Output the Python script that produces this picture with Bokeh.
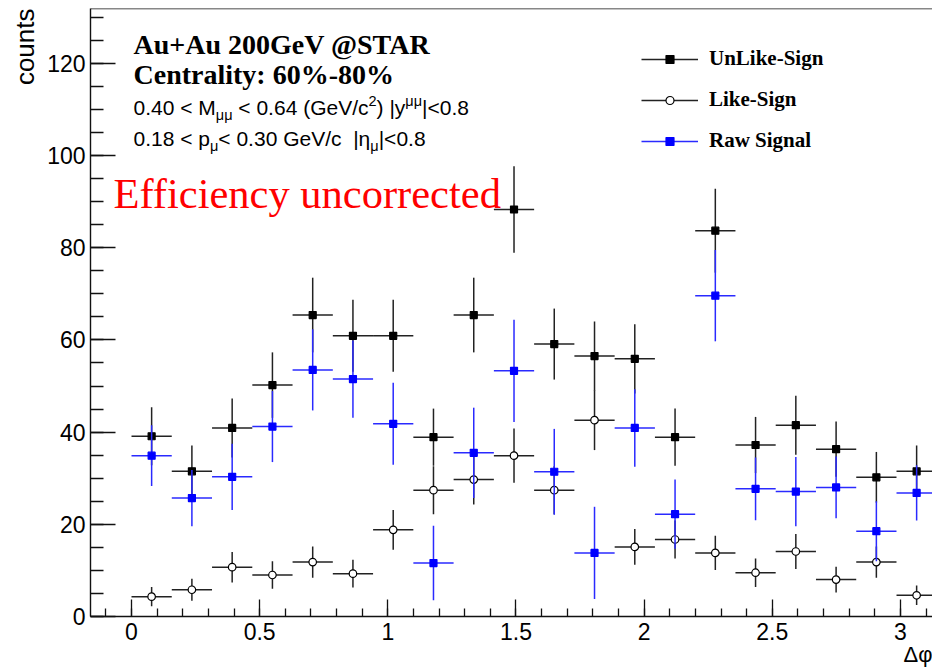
import math
from bokeh.plotting import figure
from bokeh.models import (ColumnDataSource, Label, Legend, LegendItem, Span, Title,
                          SingleIntervalTicker, CustomJSTickFormatter, Range1d)
from bokeh.embed import file_html
from bokeh.resources import INLINE

# ---------------- data ----------------
dphi = [0.0785, 0.2356, 0.3927, 0.5498, 0.7069, 0.8639, 1.0210, 1.1781, 1.3352, 1.4923,
        1.6493, 1.8064, 1.9635, 2.1206, 2.2777, 2.4347, 2.5918, 2.7489, 2.9060, 3.0631]
half_bin = 0.0785

unlike = [39.1, 31.5, 40.9, 50.2, 65.4, 60.9, 60.9, 38.9, 65.4, 88.3,
          59.1, 56.5, 55.9, 38.9, 83.7, 37.2, 41.5, 36.3, 30.2, 31.5]
unlike_err = [6.3, 5.6, 6.4, 7.1, 8.1, 7.8, 7.8, 6.2, 8.1, 9.4,
              7.7, 7.5, 7.5, 6.2, 9.1, 6.1, 6.4, 6.0, 5.5, 5.6]

like = [4.3, 5.8, 10.7, 9.0, 11.8, 9.3, 18.8, 27.4, 29.7, 34.9,
        27.4, 42.6, 15.1, 16.7, 13.8, 9.5, 14.1, 8.0, 11.8, 4.6]
like_err = [2.1, 2.4, 3.3, 3.0, 3.4, 3.0, 4.3, 5.2, 5.4, 5.9,
            5.2, 6.5, 3.9, 4.1, 3.7, 3.1, 3.8, 2.8, 3.4, 2.1]

raw = [34.9, 25.7, 30.3, 41.2, 53.5, 51.5, 41.8, 11.6, 35.5, 53.3,
       31.4, 13.8, 40.9, 22.2, 69.6, 27.7, 27.1, 28.0, 18.5, 26.8]
raw_err = [6.6, 6.1, 7.2, 7.7, 8.8, 8.4, 8.9, 8.1, 9.8, 11.1,
           9.3, 10.0, 8.4, 7.5, 9.9, 6.8, 7.5, 6.7, 6.5, 6.0]

series_names = ["UnLike-Sign", "Like-Sign", "Raw Signal"]
x_title = "\u0394\u03c6"
y_title = "counts"
x_ticks_interval = 0.5
y_ticks_interval = 20

# ---------------- figure ----------------
FRAME_LEFT, FRAME_TOP, FRAME_BOTTOM = 90, 8, 616
W, H = 932, 669

p = figure(width=W, height=H, output_backend="svg", toolbar_location=None,
           x_range=Range1d(-0.16, 3.125), y_range=Range1d(0, 131.9),
           min_border_left=FRAME_LEFT, min_border_right=0,
           min_border_top=FRAME_TOP, min_border_bottom=H - FRAME_BOTTOM)
p.background_fill_color = "white"
p.border_fill_color = "white"
p.outline_line_color = None
p.xgrid.visible = False
p.ygrid.visible = False

AX_COL = "#111111"
p.xaxis.ticker = SingleIntervalTicker(interval=x_ticks_interval, num_minor_ticks=5)
p.xaxis.formatter = CustomJSTickFormatter(code="return (Math.round(tick*10)/10).toString();")
p.yaxis.ticker = SingleIntervalTicker(interval=y_ticks_interval, num_minor_ticks=4)
for ax in (p.xaxis[0], p.yaxis[0]):
    ax.axis_line_color = AX_COL
    ax.axis_line_width = 1.4
    ax.major_tick_line_color = AX_COL
    ax.minor_tick_line_color = AX_COL
    ax.major_tick_line_width = 1.3
    ax.minor_tick_line_width = 1.3
    ax.major_tick_out = 0
    ax.minor_tick_out = 0
    ax.major_label_text_font = "Liberation Sans"
    ax.major_label_text_color = "black"
p.xaxis.major_tick_in = 17
p.xaxis.minor_tick_in = 8
p.xaxis.major_label_text_font_size = "23px"
p.xaxis.major_label_standoff = 6
p.yaxis.major_tick_in = 25
p.yaxis.minor_tick_in = 13
p.yaxis.major_label_text_font_size = "23px"
p.yaxis.major_label_standoff = 5

p.add_layout(Span(location=131.9, dimension="width", line_color=AX_COL, line_width=1.4))

# axis titles placed at the axis ends (ROOT style)
p.add_layout(Title(text=y_title, align="right", text_font="Liberation Sans",
                   text_font_style="normal", text_font_size="26px",
                   text_color="black", standoff=10), "left")
p.add_layout(Title(text=x_title, align="right", text_font="Liberation Sans",
                   text_font_style="normal", text_font_size="22px",
                   text_color="black", standoff=-6), "below")


def draw_series(yv, ev, color, bar_color, marker, fill):
    src = ColumnDataSource(dict(
        x=dphi, y=yv,
        xl=[x - half_bin for x in dphi], xr=[x + half_bin for x in dphi],
        yl=[y - e for y, e in zip(yv, ev)], yh=[y + e for y, e in zip(yv, ev)]))
    hr = p.segment(x0="xl", y0="y", x1="xr", y1="y", source=src,
                   line_color=bar_color, line_width=1.5)
    p.segment(x0="x", y0="yl", x1="x", y1="yh", source=src,
              line_color=bar_color, line_width=1.5)
    size = 7.5 if marker == "circle" else 7
    mr = p.scatter(x="x", y="y", source=src, marker=marker, size=size,
                   line_color=color, fill_color=fill, line_width=1.2)
    return hr, mr


ul_h, ul_m = draw_series(unlike, unlike_err, "black", "#222222", "square", "black")
ls_h, ls_m = draw_series(like, like_err, "black", "#222222", "circle", "white")
rw_h, rw_m = draw_series(raw, raw_err, "#0000ff", "#2a2aff", "square", "#0000ff")

legend = Legend(items=[
    LegendItem(label=series_names[0], renderers=[ul_h, ul_m]),
    LegendItem(label=series_names[1], renderers=[ls_h, ls_m]),
    LegendItem(label=series_names[2], renderers=[rw_h, rw_m]),
], location=(641 - FRAME_LEFT, FRAME_BOTTOM - 153), orientation="vertical",
    glyph_width=57, glyph_height=20, label_height=20, spacing=16,
    padding=0, margin=0, border_line_color=None, background_fill_alpha=0,
    label_text_font="Liberation Serif", label_text_font_style="bold",
    label_text_font_size="21px", label_standoff=11, label_text_color="black")
p.add_layout(legend)

# ---------------- texts ----------------
BASE_FIX = 0.3  # compensation so that the given y is the glyph baseline


def add_label(text, px, py, size, font="Liberation Sans", style="normal", color="black"):
    py_eff = py - BASE_FIX * size
    p.add_layout(Label(x=px - FRAME_LEFT, y=FRAME_BOTTOM - py_eff,
                       x_units="screen", y_units="screen",
                       text=text, text_font=font, text_font_style=style,
                       text_font_size=f"{size}px", text_color=color,
                       text_align="left", text_baseline="alphabetic"))


add_label("Au+Au 200GeV @STAR", 133, 52, 28, font="Liberation Serif", style="bold")
add_label("Centrality: 60%-80%", 133, 82, 28, font="Liberation Serif", style="bold")
add_label("Efficiency uncorrected", 113, 206, 42.5, font="Liberation Serif", color="#ff0000")

# Arial / Liberation Sans advance widths (per em)
AW = {"0": .556, "1": .556, "2": .556, "3": .556, "4": .556, "5": .556, "6": .556,
      "7": .556, "8": .556, "9": .556, ".": .278, " ": .278, "\u00a0": .278, "<": .584,
      "M": .833, "(": .333, ")": .333, "G": .778, "e": .556, "V": .667, "/": .278,
      "c": .5, "|": .26, "y": .5, "p": .556, "\u03bc": .576, "\u03b7": .556}
NB = "\u00a0"


def text_run(pieces, px0, py0):
    x = px0
    for txt, size, dy in pieces:
        txt = txt.replace(" ", NB)
        add_label(txt, x, py0 + dy, size)
        x += sum(AW.get(ch, .556) for ch in txt) * size


F, S = 21, 14.5
text_run([("0.40 < M", F, 0), ("\u03bc\u03bc", S, 6), (" < 0.64 (GeV/c", F, 0),
          ("2", S, -8), (") |y", F, 0), ("\u03bc\u03bc", S, -8), ("|<0.8", F, 0)], 133, 113)
text_run([("0.18 < p", F, 0), ("\u03bc", S, 6), ("< 0.30 GeV/c  |\u03b7", F, 0),
          ("\u03bc", S, 6), ("|<0.8", F, 0)], 133, 144)

open("out.html", "w").write(file_html(p, INLINE))
